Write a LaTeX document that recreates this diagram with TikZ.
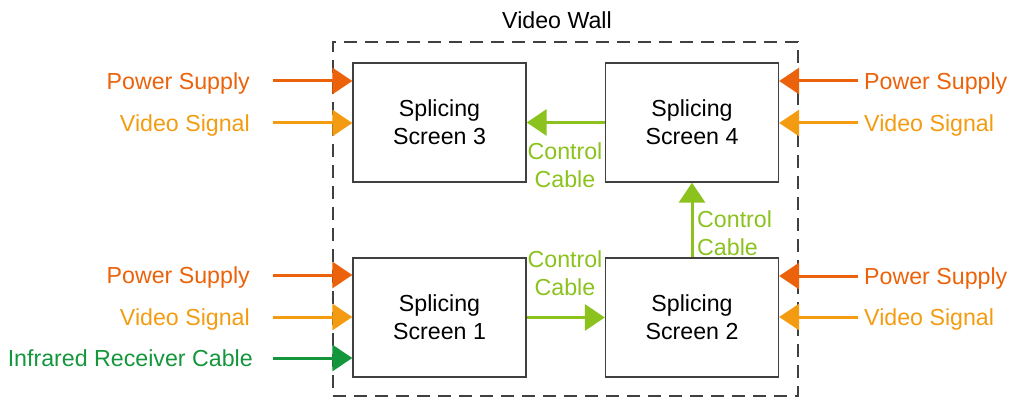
\documentclass[tikz,border=0pt]{standalone}
\usepackage{fontspec}
\setmainfont{Liberation Sans}
\usetikzlibrary{arrows.meta}
\definecolor{pwr}{RGB}{236,98,10}
\definecolor{vid}{RGB}{243,156,18}
\definecolor{irc}{RGB}{20,150,60}
\definecolor{ctl}{RGB}{140,194,30}
\definecolor{edgec}{RGB}{64,64,64}
\begin{document}
\begin{tikzpicture}[x=1pt,y=-1pt,
  screen/.style={draw=edgec, line width=1.3pt, minimum width=173pt, minimum height=119pt, inner sep=0pt, align=center, font=\fontsize{23.2}{28}\selectfont},
  lbl/.style={font=\fontsize{23.2}{28}\selectfont, text height=16.6pt, text depth=0pt, inner sep=0pt},
  clbl/.style={font=\fontsize{23.2}{28}\selectfont, text=ctl, inner sep=0pt},
  feed/.style={line width=3pt, -{Triangle[length=20pt,width=26pt]}},
  wallbox/.style={draw=edgec, line width=1.3pt, dash pattern=on 13pt off 8pt, minimum width=465pt, minimum height=354pt, inner sep=0pt}
]
\useasboundingbox (0,0) rectangle (1011,398);
\node[wallbox] (wall) at (565.5,219) {};
\node[lbl] (walllbl) at (557,20.5) {Video Wall};

\node[screen] (b3) at (439.5,122.5) {Splicing\\Screen 3};
\node[screen] (b4) at (692,122.5) {Splicing\\Screen 4};
\node[screen] (b1) at (439.5,317.5) {Splicing\\Screen 1};
\node[screen] (b2) at (692,317.5) {Splicing\\Screen 2};

% left top
\node[lbl, text=pwr, anchor=east] (ps3) at (250,81) {Power Supply};
\node[lbl, text=vid, anchor=east] (vs3) at (250,123) {Video Signal};
\draw[feed, pwr] ([xshift=23pt]ps3.east) -- (b3.west |- ps3.east);
\draw[feed, vid] ([xshift=23pt]vs3.east) -- (b3.west |- vs3.east);
% left bottom
\node[lbl, text=pwr, anchor=east] (ps1) at (250,275) {Power Supply};
\node[lbl, text=vid, anchor=east] (vs1) at (250,317) {Video Signal};
\node[lbl, text=irc, anchor=east] (ir1) at (253,358) {Infrared Receiver Cable};
\draw[feed, pwr] ([xshift=23pt]ps1.east) -- (b1.west |- ps1.east);
\draw[feed, vid] ([xshift=23pt]vs1.east) -- (b1.west |- vs1.east);
\draw[feed, irc] ([xshift=20pt]ir1.east) -- (b1.west |- ir1.east);
% right top
\node[lbl, text=pwr, anchor=west] (ps4) at (864,81) {Power Supply};
\node[lbl, text=vid, anchor=west] (vs4) at (864,123) {Video Signal};
\draw[feed, pwr] ([xshift=-6pt]ps4.west) -- (b4.east |- ps4.west);
\draw[feed, vid] ([xshift=-6pt]vs4.west) -- (b4.east |- vs4.west);
% right bottom
\node[lbl, text=pwr, anchor=west] (ps2) at (864,276) {Power Supply};
\node[lbl, text=vid, anchor=west] (vs2) at (864,317) {Video Signal};
\draw[feed, pwr] ([xshift=-6pt]ps2.west) -- (b2.east |- ps2.west);
\draw[feed, vid] ([xshift=-6pt]vs2.west) -- (b2.east |- vs2.west);

% control cables
\draw[feed, ctl] (b4.west) -- (b3.east);
\draw[feed, ctl] (b2.north) -- (b4.south);
\draw[feed, ctl] (b1.east) -- (b2.west);
\node[clbl, align=center] (c43) at (565,165) {Control\\Cable};
\node[clbl, align=left, anchor=west] (c24) at (697,233) {Control\\Cable};
\node[clbl, align=center] (c12) at (565,273.5) {Control\\Cable};
\end{tikzpicture}
\end{document}
